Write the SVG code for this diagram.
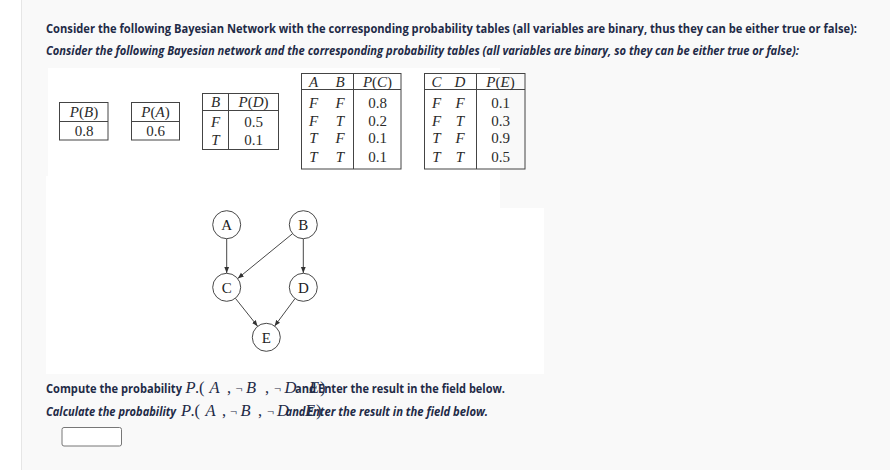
<svg xmlns="http://www.w3.org/2000/svg" width="890" height="470" viewBox="0 0 890 470">
<defs>
<style>
.q{font-family:"Open Sans","Noto Sans","Liberation Sans",sans-serif;font-weight:bold;font-size:12.5px;fill:#1f2b47}
.qi{font-style:italic}
.t{font-family:"Liberation Serif","DejaVu Serif",serif;font-size:15px;fill:#2a2a2a}
.i{font-style:italic}
.n{font-size:12.5px}
.tb{fill:none;stroke:#444;stroke-width:1}
.ln{stroke:#444;stroke-width:1}
.node circle{fill:#fff;stroke:#333;stroke-width:0.9}
.node text{font-family:"Liberation Serif","DejaVu Serif",serif;font-size:15px;fill:#222;text-anchor:middle}
.edge{stroke:#333;stroke-width:0.9;fill:none;marker-end:url(#ah)}
.mt{font-family:"Liberation Serif","DejaVu Serif",serif;font-size:16.5px;fill:#1f2b47}
</style>
<marker id="ah" viewBox="0 0 6 6" refX="6" refY="3" markerWidth="6" markerHeight="6" markerUnits="userSpaceOnUse" orient="auto">
<path d="M0,0.6 L6,3 L0,5.4 Z" fill="#333"/>
</marker>
</defs>
<rect x="0" y="0" width="890" height="470" fill="#f9f9f9"/>
<rect x="0" y="0" width="21" height="470" fill="#ffffff"/>
<rect x="21" y="0" width="1" height="470" fill="#e6e6e6"/>
<g id="image-bg" fill="#ffffff">
<rect x="48" y="68" width="452" height="140"/>
<rect x="46" y="176" width="454" height="198"/>
<rect x="500" y="208" width="44" height="166"/>
</g>
<g id="title">
<text class="q" x="46" y="32.5" textLength="811" lengthAdjust="spacingAndGlyphs">Consider the following Bayesian Network with the corresponding probability tables (all variables are binary, thus they can be either true or false):</text>
<text class="q qi" x="46" y="54.5" textLength="753" lengthAdjust="spacingAndGlyphs">Consider the following Bayesian network and the corresponding probability tables (all variables are binary, so they can be either true or false):</text>
</g>
<g id="table-PB">
<rect class="tb" x="59.5" y="102.5" width="48.5" height="37.5"/>
<line class="ln" x1="59.5" y1="121.5" x2="108" y2="121.5"/>
<text class="t" x="84" y="116.5" text-anchor="middle"><tspan class="i">P</tspan>(<tspan class="i">B</tspan>)</text>
<text class="t" x="84" y="135.5" text-anchor="middle">0.8</text>
</g>
<g id="table-PA">
<rect class="tb" x="131.5" y="102.5" width="48" height="37.5"/>
<line class="ln" x1="131.5" y1="121.5" x2="179.5" y2="121.5"/>
<text class="t" x="155.5" y="116.5" text-anchor="middle"><tspan class="i">P</tspan>(<tspan class="i">A</tspan>)</text>
<text class="t" x="155.5" y="135.5" text-anchor="middle">0.6</text>
</g>
<g id="table-PD">
<rect class="tb" x="202.5" y="93.5" width="76" height="56"/>
<line class="ln" x1="202.5" y1="110.5" x2="278.5" y2="110.5"/>
<line class="ln" x1="228.5" y1="93.5" x2="228.5" y2="149.5"/>
<text class="t" x="215.5" y="107" text-anchor="middle"><tspan class="i">B</tspan></text>
<text class="t" x="253.5" y="107" text-anchor="middle"><tspan class="i">P</tspan>(<tspan class="i">D</tspan>)</text>
<text class="t i" x="215.5" y="126.5" text-anchor="middle">F</text>
<text class="t" x="253.5" y="126.5" text-anchor="middle">0.5</text>
<text class="t i" x="215.5" y="145" text-anchor="middle">T</text>
<text class="t" x="253.5" y="145" text-anchor="middle">0.1</text>
</g>
<g id="table-PC">
<rect class="tb" x="301.5" y="73.5" width="99.5" height="95.5"/>
<line class="ln" x1="301.5" y1="89.5" x2="401" y2="89.5"/>
<line class="ln" x1="353.5" y1="73.5" x2="353.5" y2="169"/>
<g class="t i" text-anchor="middle">
<text x="313.5" y="86.5">A</text><text x="340" y="86.5">B</text>
<text x="313.5" y="108">F</text><text x="340" y="108">F</text>
<text x="313.5" y="126">F</text><text x="340" y="126">T</text>
<text x="313.5" y="143">T</text><text x="340" y="143">F</text>
<text x="313.5" y="161.5">T</text><text x="340" y="161.5">T</text>
</g>
<text class="t" x="377.5" y="86.5" text-anchor="middle"><tspan class="i">P</tspan>(<tspan class="i">C</tspan>)</text>
<g class="t" text-anchor="middle">
<text x="377.5" y="108">0.8</text><text x="377.5" y="126">0.2</text><text x="377.5" y="143">0.1</text><text x="377.5" y="161.5">0.1</text>
</g>
</g>
<g id="table-PE">
<rect class="tb" x="424.5" y="73.5" width="100.5" height="95.5"/>
<line class="ln" x1="424.5" y1="89.5" x2="525" y2="89.5"/>
<line class="ln" x1="476.5" y1="73.5" x2="476.5" y2="169"/>
<g class="t i" text-anchor="middle">
<text x="436.5" y="86.5">C</text><text x="460" y="86.5">D</text>
<text x="436.5" y="108">F</text><text x="460" y="108">F</text>
<text x="436.5" y="126">F</text><text x="460" y="126">T</text>
<text x="436.5" y="143">T</text><text x="460" y="143">F</text>
<text x="436.5" y="161.5">T</text><text x="460" y="161.5">T</text>
</g>
<text class="t" x="500.5" y="86.5" text-anchor="middle"><tspan class="i">P</tspan>(<tspan class="i">E</tspan>)</text>
<g class="t" text-anchor="middle">
<text x="500.5" y="108">0.1</text><text x="500.5" y="126">0.3</text><text x="500.5" y="143">0.9</text><text x="500.5" y="161.5">0.5</text>
</g>
</g>
<g id="connectors">
<line class="edge" x1="226.7" y1="238.7" x2="226.7" y2="273"/>
<line class="edge" x1="303.3" y1="239" x2="303.3" y2="273"/>
<line class="edge" x1="292.4" y1="233.8" x2="237.8" y2="278.4"/>
<line class="edge" x1="235.4" y1="298.3" x2="257.6" y2="326.2"/>
<line class="edge" x1="295" y1="298.6" x2="274.6" y2="326.1"/>
</g>
<g id="node-A" class="node"><circle cx="226.7" cy="224.7" r="14"/><text x="226.7" y="230">A</text></g>
<g id="node-B" class="node"><circle cx="303.3" cy="224.7" r="14"/><text x="303.3" y="230">B</text></g>
<g id="node-C" class="node"><circle cx="226.7" cy="287.3" r="14"/><text x="226.7" y="292.5">C</text></g>
<g id="node-D" class="node"><circle cx="303.3" cy="287.3" r="14"/><text x="303.3" y="292.5">D</text></g>
<g id="node-E" class="node"><circle cx="266.3" cy="337.3" r="14"/><text x="266.3" y="342.5">E</text></g>
<g id="question">
<text class="q" x="46" y="393.3" textLength="136" lengthAdjust="spacingAndGlyphs">Compute the probability</text>
<text class="mt" y="393.3"><tspan class="i" x="185.5">P</tspan><tspan x="195">.</tspan><tspan x="199">(</tspan><tspan class="i" x="209.5">A</tspan><tspan x="227">,</tspan><tspan class="n" x="235.5">¬</tspan><tspan class="i" x="246">B</tspan><tspan x="265">,</tspan><tspan class="n" x="274">¬</tspan><tspan class="i" x="284.5">D</tspan></text>
<text class="q" x="295" y="393.3" textLength="21" lengthAdjust="spacingAndGlyphs">and</text>
<text class="mt" y="393.3"><tspan class="i" x="309">E</tspan><tspan x="320">)</tspan></text>
<text class="q" x="318" y="393.3" textLength="187" lengthAdjust="spacingAndGlyphs">Enter the result in the field below.</text>
<text class="q qi" x="46" y="415.7" textLength="130" lengthAdjust="spacingAndGlyphs">Calculate the probability</text>
<text class="mt" y="415.7"><tspan class="i" x="181">P</tspan><tspan x="190.5">.</tspan><tspan x="194.5">(</tspan><tspan class="i" x="205.5">A</tspan><tspan x="222">,</tspan><tspan class="n" x="230">¬</tspan><tspan class="i" x="240.5">B</tspan><tspan x="258">,</tspan><tspan class="n" x="267">¬</tspan><tspan class="i" x="277">D</tspan></text>
<text class="q qi" x="285.5" y="415.7" textLength="20" lengthAdjust="spacingAndGlyphs">and</text>
<text class="mt" y="415.7"><tspan class="i" x="305">E</tspan><tspan x="316">)</tspan></text>
<text class="q qi" x="307" y="415.7" textLength="181" lengthAdjust="spacingAndGlyphs">Enter the result in the field below.</text>
</g>
<rect id="answer-field" x="62" y="427.5" width="59.5" height="18.5" rx="2" fill="#ffffff" stroke="#777" stroke-width="1"/>
</svg>
